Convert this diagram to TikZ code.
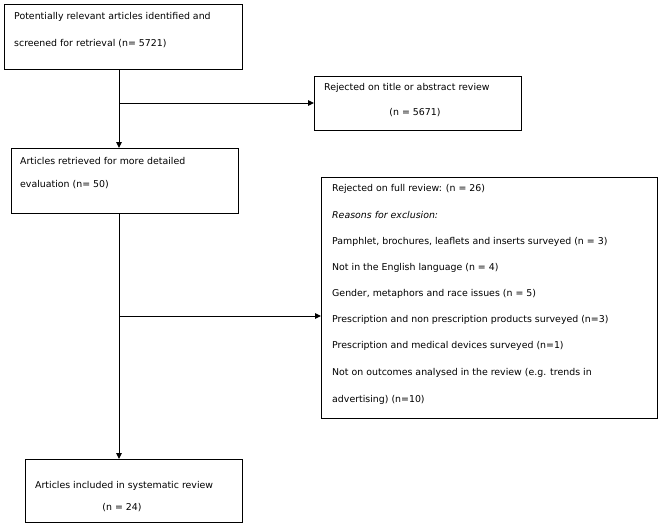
\documentclass[tikz,border=0pt]{standalone}
\usepackage{fontspec}
\setmainfont{DejaVu Sans}
\usetikzlibrary{arrows.meta}
\begin{document}
\begin{tikzpicture}[x=1pt,y=-1pt,
  box/.style={draw, line width=1pt, anchor=north west, inner sep=0pt},
  txt/.style={anchor=west, inner sep=0pt, font=\fontsize{9.4}{10}\selectfont},
  ctxt/.style={inner sep=0pt, font=\fontsize{9.4}{10}\selectfont},
  conn/.style={line width=1pt},
  arr/.style={conn, -{Triangle[length=6pt,width=5.5pt]}}]
\useasboundingbox (0,0) rectangle (661,528);
% boxes
\node[box, minimum width=238pt, minimum height=65pt] (s) at (4,4) {};
\node[box, minimum width=207pt, minimum height=54pt] (r1) at (314,76) {};
\node[box, minimum width=227pt, minimum height=65pt] (e) at (11,148) {};
\node[box, minimum width=336pt, minimum height=241pt] (r2) at (321,177) {};
\node[box, minimum width=217pt, minimum height=63pt] (inc) at (25,459) {};
% texts
\node[txt] (s1) at (14,17) {Potentially relevant articles identified and};
\node[txt] (s2) at (14,44) {screened for retrieval (n= 5721)};
\node[txt] (r11) at (324,88) {Rejected on title or abstract review};
\node[ctxt] (r12) at (415,113) {(n = 5671)};
\node[txt] (e1) at (20,161) {Articles retrieved for more detailed};
\node[txt] (e2) at (20,185) {evaluation (n= 50)};
\node[txt] (q1) at (332,189) {Rejected on full review: (n = 26)};
\node[txt] (q2) at (332,215) {\itshape Reasons for exclusion:};
\node[txt] (q3) at (332,242) {Pamphlet, brochures, leaflets and inserts surveyed (n = 3)};
\node[txt] (q4) at (332,268) {Not in the English language (n = 4)};
\node[txt] (q5) at (332,294) {Gender, metaphors and race issues (n = 5)};
\node[txt] (q6) at (332,320) {Prescription and non prescription products surveyed (n=3)};
\node[txt] (q7) at (332,346) {Prescription and medical devices surveyed (n=1)};
\node[txt] (q8) at (332,373) {Not on outcomes analysed in the review (e.g. trends in};
\node[txt] (q9) at (332,400) {advertising) (n=10)};
\node[txt] (i1) at (35,486) {Articles included in systematic review};
\node[ctxt] (i2) at (122,508) {(n = 24)};
% connectors
\coordinate (a1) at (119,69);
\coordinate (a2) at (119,103);
\coordinate (a3) at (119,213);
\coordinate (a4) at (119,316);
\draw[arr] (a1) -- (a1 |- e.north);
\draw[arr] (a2) -- (a2 -| r1.west);
\draw[arr] (a3) -- (a3 |- inc.north);
\draw[arr] (a4) -- (a4 -| r2.west);
\end{tikzpicture}
\end{document}
